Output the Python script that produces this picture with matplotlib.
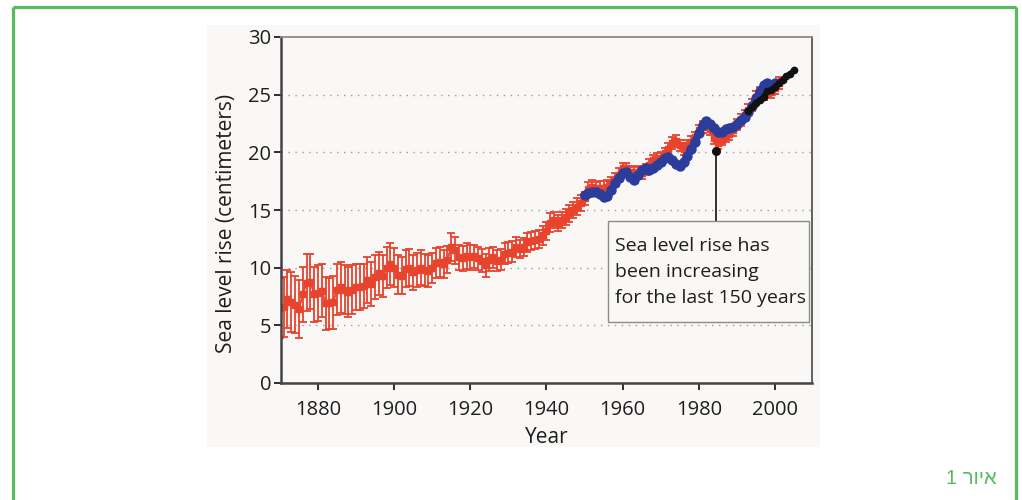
import matplotlib
matplotlib.use("Agg")
import matplotlib.pyplot as plt
from matplotlib.patches import Rectangle
from matplotlib.lines import Line2D

# ---------------- data ----------------
red_years = list(range(1870, 2002))
red_vals = [
    6.5, 6.6, 7.3, 7.0, 6.8, 6.4, 7.7, 8.7, 8.8, 7.7,
    7.8, 8.0, 6.9, 6.9, 7.0, 8.1, 8.3, 8.1, 7.9, 8.1,
    8.3, 8.3, 8.4, 8.9, 8.6, 9.2, 9.5, 9.3, 10.0, 10.3,
    10.0, 9.4, 9.3, 9.9, 10.0, 9.6, 9.8, 10.0, 9.8, 9.7,
    10.0, 10.4, 10.5, 10.3, 10.7, 11.8, 11.5, 10.9, 10.8, 11.0,
    10.9, 11.0, 10.8, 10.6, 10.2, 10.7, 10.9, 10.6, 10.7, 11.2,
    11.3, 11.4, 11.8, 11.6, 11.8, 12.2, 12.3, 12.4, 12.5, 12.8,
    13.2, 13.9, 14.1, 13.9, 14.1, 14.4, 14.7, 15.0, 15.3, 15.6,
    16.0, 16.8, 17.0, 16.8, 16.9, 16.9, 17.0, 17.3, 17.6, 18.0,
    18.6, 18.6, 18.3, 18.2, 18.3, 18.2, 18.5, 18.9, 19.3, 19.4,
    19.5, 19.9, 20.3, 20.8, 21.0, 20.6, 20.3, 20.6, 20.9, 21.3,
    21.9, 22.2, 22.4, 22.0, 21.2, 20.8, 21.1, 21.4, 21.6, 21.9,
    22.4, 22.8, 23.2, 23.7, 24.1, 24.8, 25.2, 25.0, 25.4, 25.2,
    25.6, 26.0,
]
red_err = [
    2.6, 2.6, 2.5, 2.6, 2.5, 2.5, 2.4, 2.5, 2.4, 2.4,
    2.4, 2.3, 2.3, 2.2, 2.3, 2.2, 2.2, 2.1, 2.2, 2.1,
    2.0, 2.0, 1.9, 2.0, 1.9, 1.9, 1.9, 1.8, 1.8, 1.8,
    1.7, 1.7, 1.6, 1.6, 1.6, 1.5, 1.5, 1.5, 1.4, 1.4,
    1.3, 1.3, 1.3, 1.2, 1.2, 1.2, 1.2, 1.1, 1.1, 1.1,
    1.1, 1.0, 1.0, 1.0, 1.0, 1.0, 0.9, 0.9, 0.9, 0.9,
    0.9, 0.9, 0.9, 0.8, 0.8, 0.8, 0.8, 0.8, 0.8, 0.8,
    0.8, 0.8, 0.7, 0.7, 0.7, 0.7, 0.7, 0.7, 0.7, 0.7,
    0.6, 0.6, 0.6, 0.6, 0.6, 0.6, 0.6, 0.6, 0.6, 0.6,
    0.5, 0.5, 0.5, 0.5, 0.5, 0.5, 0.5, 0.5, 0.5, 0.5,
    0.5, 0.5, 0.5, 0.5, 0.5, 0.5, 0.5, 0.5, 0.5, 0.5,
    0.5, 0.5, 0.5, 0.5, 0.5, 0.5, 0.5, 0.5, 0.5, 0.5,
    0.5, 0.5, 0.5, 0.5, 0.5, 0.5, 0.5, 0.5, 0.5, 0.5,
    0.5, 0.5,
]

blue_years = list(range(1950, 2001))
blue_vals = [
    16.3, 16.5, 16.6, 16.6, 16.4, 16.1, 16.2, 16.7, 17.3, 17.8,
    18.2, 18.3, 17.9, 17.6, 18.0, 18.5, 18.6, 18.5, 18.6, 18.9,
    19.2, 19.5, 19.6, 19.3, 19.0, 18.8, 19.2, 19.7, 20.3, 20.9,
    21.7, 22.4, 22.7, 22.5, 22.1, 21.8, 21.8, 22.0, 22.1, 22.2,
    22.5, 22.8, 23.1, 23.5, 24.0, 24.7, 25.3, 25.8, 26.0, 25.8,
    26.0,
]

black_years = [1993, 1994, 1995, 1996, 1997, 1998, 1999, 2000, 2001, 2002, 2003, 2004, 2005]
black_vals = [23.6, 23.9, 24.3, 24.5, 24.8, 25.3, 25.4, 25.7, 26.0, 26.3, 26.6, 26.8, 27.1]

y_ticks = [0, 5, 10, 15, 20, 25, 30]
x_ticks = [1880, 1900, 1920, 1940, 1960, 1980, 2000]
annot_point = (1984.5, 20.1)
annot_text = "Sea level rise has\nbeen increasing\nfor the last 150 years"
caption = "1 \u05e8\u05d5\u05d9\u05d0"  # "איור 1" laid out right-to-left

# ---------------- figure ----------------
W, H = 1022, 500
plt.rcParams['font.family'] = ['Open Sans', 'DejaVu Sans']
fig = plt.figure(figsize=(W / 100, H / 100), dpi=100)
fig.patch.set_facecolor('white')

def fx(px):
    return px / W

def fy(py):
    return 1 - py / H

bg = '#faf8f6'
green = '#55bb5d'
txt = '#1e1e1e'

# chart image background
fig.patches.append(Rectangle((fx(207), fy(447)), fx(820) - fx(207), fy(25) - fy(447),
                             transform=fig.transFigure, facecolor=bg, edgecolor='none', zorder=-5))
# green frame
for xs, ys in [([12.5, 12.5], [6.5, 520]), ([12.5, 1015.5], [6.5, 6.5]), ([1015.5, 1015.5], [6.5, 520])]:
    fig.lines.append(Line2D([fx(x) for x in xs], [fy(y) for y in ys], transform=fig.transFigure,
                            color=green, lw=2.3, solid_capstyle='butt', zorder=-4))

ax = fig.add_axes([fx(281), fy(383), fx(812) - fx(281), fy(37) - fy(383)])
ax.set_zorder(1)
ax.set_facecolor(bg)
ax.set_xlim(1870.3, 2009.7)
ax.set_ylim(0, 30)

for y in y_ticks[1:-1]:
    ax.axhline(y, color='#9a9a9a', lw=1.0, linestyle=(0, (1, 4)), zorder=1)

ax.errorbar(red_years, red_vals, yerr=red_err, fmt='-s', color='#e8432d', ms=4.5,
            lw=1.4, elinewidth=1.3, capsize=3, capthick=1.3, zorder=2)
ax.plot(blue_years, blue_vals, '-o', color='#2c3c9a', lw=5, ms=6.5, zorder=3)
ax.plot(black_years, black_vals, '-o', color='#111111', lw=4, ms=4.5, zorder=4)

ax.set_xticks(x_ticks)
ax.set_yticks(y_ticks)
ax.tick_params(axis='both', direction='out', labelsize=14.5, colors=txt, width=1.3)
ax.tick_params(axis='x', length=5, pad=7)
ax.tick_params(axis='y', length=5, pad=2)
for s in ['left', 'bottom']:
    ax.spines[s].set_color('#444444')
    ax.spines[s].set_linewidth(1.8)
ax.spines['right'].set_color('#555555')
ax.spines['right'].set_linewidth(1.3)
ax.spines['top'].set_color('#8a8a8a')
ax.spines['top'].set_linewidth(1.3)

ax.set_xlabel('Year', fontsize=15, color=txt, labelpad=5)
ax.set_ylabel('Sea level rise (centimeters)', fontsize=15, color=txt)
ax.yaxis.set_label_coords(-0.083, 0.46)

# annotation
box_top_val = 14.05
ax.plot([annot_point[0], annot_point[0]], [annot_point[1], box_top_val], color='#222222', lw=1.3, zorder=5)
ax.plot([annot_point[0]], [annot_point[1]], 'o', color='#111111', ms=5.5, zorder=6)
fig.patches.append(Rectangle((fx(608), fy(322)), fx(809) - fx(608), fy(221) - fy(322),
                             transform=fig.transFigure, facecolor=bg, edgecolor='#8c8c8c', lw=1.0, zorder=5))
fig.text(fx(615), fy(272), annot_text, ha='left', va='center', fontsize=14, color=txt,
         linespacing=1.6, zorder=6)

fig.text(fx(997), fy(478), caption, ha='right', va='center', fontsize=14.5, color=green,
         family=['Liberation Sans', 'DejaVu Sans'])

fig.savefig('out.png', dpi=100, facecolor='white')
